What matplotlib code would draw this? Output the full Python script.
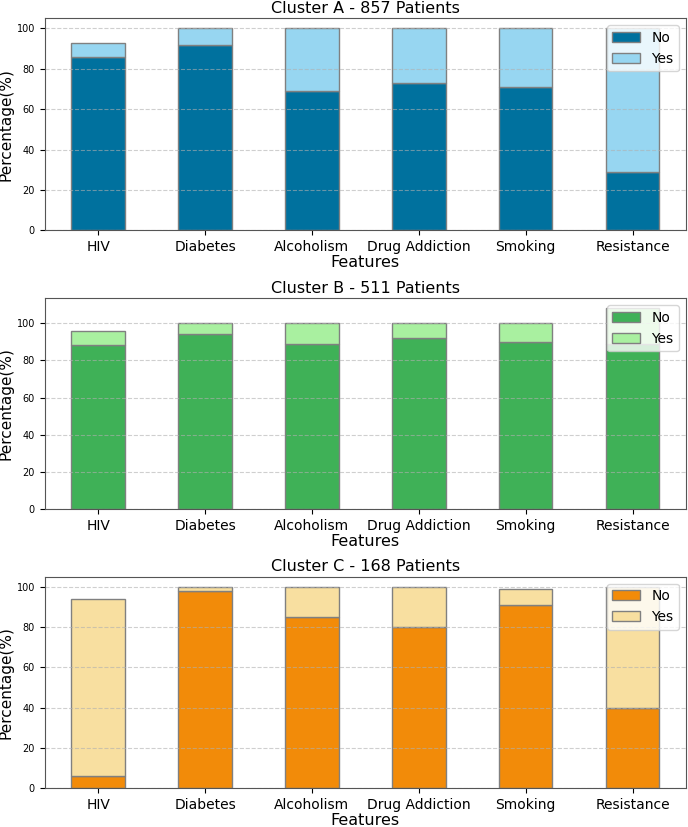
import matplotlib
matplotlib.use("Agg")
import matplotlib.pyplot as plt
import numpy as np

features = ["HIV", "Diabetes", "Alcoholism", "Drug Addiction", "Smoking", "Resistance"]

a_no = [86, 92, 69, 73, 71, 29]
a_yes = [7, 8, 31, 27, 29, 71]
b_no = [88, 94, 89, 92, 90, 89]
b_yes = [8, 6, 11, 8, 10, 19]
c_no = [6, 98, 85, 80, 91, 40]
c_yes = [88, 2, 15, 20, 8, 60]

titles = ["Cluster A - 857 Patients", "Cluster B - 511 Patients", "Cluster C - 168 Patients"]
colors = [("#00719e", "#97d6f1"), ("#3fb157", "#a9f0a0"), ("#f28b09", "#f8dfa0")]
data = [(a_no, a_yes), (b_no, b_yes), (c_no, c_yes)]

fig = plt.figure(figsize=(6.88, 8.27), dpi=100)
lefts = 44.7 / 688
width = (686 - 44.7) / 688
tops = [18.3, 298.3, 576.7]
bottoms = [230.3, 509.0, 788.3]

x = np.arange(len(features))
for i in range(3):
    ax = fig.add_axes([lefts, 1 - bottoms[i] / 827, width, (bottoms[i] - tops[i]) / 827])
    no, yes = data[i]
    cno, cyes = colors[i]
    ax.bar(x, no, width=0.5, color=cno, edgecolor="#808080", linewidth=1, label="No")
    ax.bar(x, yes, width=0.5, bottom=no, color=cyes, edgecolor="#808080", linewidth=1, label="Yes")
    tot = max(n + y for n, y in zip(no, yes))
    ax.set_ylim(0, tot * 1.05)
    ax.set_xlim(-0.5, len(features) - 0.5)
    ax.set_xticks(x)
    ax.set_xticklabels(features, fontsize=10)
    ax.set_yticks([0, 20, 40, 60, 80, 100])
    ax.tick_params(axis="y", labelsize=7)
    ax.set_title(titles[i], fontsize=11.5, pad=4)
    ax.set_xlabel("Features", fontsize=11.5, labelpad=1)
    ax.set_ylabel("Percentage(%)", fontsize=11, labelpad=2)
    ax.yaxis.grid(True, linestyle="--", alpha=0.6, color="#b0b0b0")
    ax.legend(loc="upper right", fontsize=10)
    for s in ax.spines.values():
        s.set_color("#555555")

fig.savefig("out.png", dpi=100)
